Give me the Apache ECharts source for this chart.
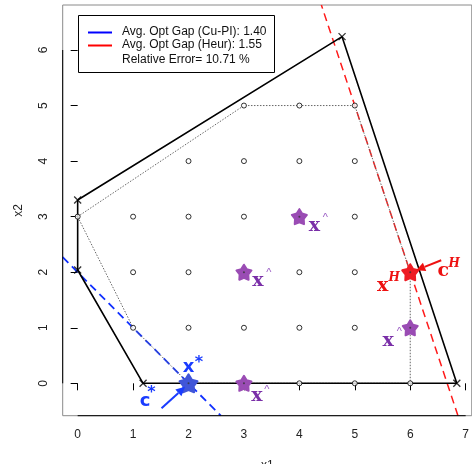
<!DOCTYPE html>
<html><head><meta charset="utf-8">
<script src="https://cdn.jsdelivr.net/npm/echarts@6/dist/echarts.min.js"></script>
<style>html,body{margin:0;padding:0;background:#fff}#c{width:472px;height:464px}</style>
</head><body><div id="c"></div><script>
// Feasible region (LP relaxation) vertices, closed polygon
const regionX = [0, 4.77, 6.84, 1.18, 0, 0];
const regionY = [3.30, 6.24, 0, 0, 2.04, 3.30];
// Convex hull of the integer feasible points
const hullX = [0, 3, 5, 6, 6, 2, 1, 0];
const hullY = [3, 5, 5, 2, 0, 0, 1, 3];
// Integer feasible points (those not marked by a star)
const latticeX = [3,4,5, 2,3,4,5, 0,1,2,3,5, 1,2,4,5, 1,2,3,4,5, 4,5,6];
const latticeY = [5,5,5, 4,4,4,4, 3,3,3,3,3, 2,2,2,2, 1,1,1,1,1, 0,0,0];
// Predicted solutions (x^)
const predX = [4, 3, 6, 3];
const predY = [3, 2, 1, 0];
// Heuristic solution x^H and optimal solution x*
const heurX = [6], heurY = [2];
const optX = [2], optY = [0];
// Objective level lines a*x1 + b*x2 = c
const optLine = [1, 1, 2];     // through x*
const heurLine = [3, 1, 20];   // through x^H
// Legend values
const gapCuPI = '1.40';
const gapHeur = '1.55';
const relErr = '10.71';
// Axis ranges and ticks
const xRange = [-0.27, 7.11];
const yRange = [-0.583, 6.81];
const xTicks = [0, 1, 2, 3, 4, 5, 6, 7];
const yTicks = [0, 1, 2, 3, 4, 5, 6];

const zip = (a, b) => a.map((v, i) => [v, b[i]]);

// segment of a line a*x + b*y = c inside the plotting window
function lineInWindow(l) {
  const [a, b, c] = l, pts = [];
  for (const x of xRange) { const y = (c - a * x) / b; if (y >= yRange[0] && y <= yRange[1]) pts.push([x, y]); }
  for (const y of yRange) { const x = (c - b * y) / a; if (x >= xRange[0] && x <= xRange[1]) pts.push([x, y]); }
  return pts.slice(0, 2);
}

function starPath() {
  let d = '';
  for (let i = 0; i < 10; i++) {
    const r = i % 2 === 0 ? 50 : 29;
    const a = -Math.PI / 2 + i * Math.PI / 5;
    d += (i === 0 ? 'M' : 'L') + (50 + r * Math.cos(a)).toFixed(2) + ' ' + (50 + r * Math.sin(a)).toFixed(2) + ' ';
  }
  return 'path://' + d + 'Z';
}
const STAR = starPath();
const CROSS = 'path://M0 0L10 10M10 0L0 10';
const SANS = 'Liberation Sans';
const MATH = 'DejaVu Serif';
const BSANS = 'DejaVu Sans';

const chart = echarts.init(document.getElementById('c'), null, { renderer: 'canvas' });

const starSeries = (data, color, size) => ({
  type: 'scatter', data, symbol: STAR, symbolSize: size, z: 5,
  itemStyle: { color, borderColor: color, borderWidth: 2, borderJoin: 'round', opacity: 1 }
});

chart.setOption({
  animation: false,
  grid: { left: 62.7, right: -1.5, top: 5, bottom: 48.3, show: true, borderColor: '#8a8a8a', borderWidth: 1 },
  xAxis: {
    type: 'value', min: xRange[0], max: xRange[1],
    splitLine: { show: false }, axisLine: { show: false },
    axisTick: { customValues: xTicks, length: 7, lineStyle: { color: '#000', width: 1 } },
    axisLabel: { customValues: xTicks, fontSize: 12, color: '#222', fontFamily: SANS, margin: 13 }
  },
  yAxis: {
    type: 'value', min: yRange[0], max: yRange[1],
    splitLine: { show: false }, axisLine: { show: false },
    axisTick: { customValues: yTicks, length: 7, lineStyle: { color: '#000', width: 1 } },
    axisLabel: { customValues: yTicks, fontSize: 12, color: '#222', fontFamily: SANS, margin: 13, rotate: 90 }
  },
  series: [
    { type: 'line', data: lineInWindow(heurLine), symbol: 'none', z: 2,
      lineStyle: { color: '#ff1a1a', width: 1.5, type: [8, 5] } },
    { type: 'line', data: lineInWindow(optLine), symbol: 'none', z: 2,
      lineStyle: { color: '#1030ff', width: 1.8, type: [8, 5] } },
    { type: 'line', data: zip(hullX, hullY), symbol: 'none', z: 2,
      lineStyle: { color: '#666', width: 1, type: [1.5, 1.5] } },
    { type: 'line', data: zip(regionX, regionY), symbol: 'none', z: 3,
      lineStyle: { color: '#000', width: 1.6 } },
    { type: 'scatter', data: zip(regionX, regionY).slice(0, 5), symbol: CROSS, symbolSize: 7, z: 4,
      itemStyle: { color: 'none', borderColor: '#000', borderWidth: 1.3 } },
    { type: 'scatter', data: zip(latticeX, latticeY), symbol: 'circle', symbolSize: 5, z: 4,
      itemStyle: { color: '#fff', borderColor: '#000', borderWidth: 1 } },
    starSeries(zip(predX, predY), '#9a4cb4', 15),
    starSeries(zip(heurX, heurY), '#ee1c24', 16),
    starSeries(zip(optX, optY), '#4156d8', 18),
    { type: 'scatter', data: zip(predX, predY).concat(zip(heurX, heurY), zip(optX, optY)), symbol: 'circle', symbolSize: 2, z: 6,
      itemStyle: { color: '#333' } }
  ]
});

const px = (x, y) => chart.convertToPixel({ gridIndex: 0 }, [x, y]);
const g = [];
function text(t, x, y, fill, size, family, weight, style, extra) {
  g.push(Object.assign({ type: 'text', z: 20,
    style: { text: t, x, y, fill, font: (style || 'normal') + ' ' + (weight || 'normal') + ' ' + size + 'px "' + family + '"',
      align: 'center', verticalAlign: 'middle' } }, extra || {}));
}
const seg = (p, q, stroke, w, z) => g.push({ type: 'line', z: z || 20, shape: { x1: p[0], y1: p[1], x2: q[0], y2: q[1] }, style: { stroke, lineWidth: w } });
function arrow(tail, tip, color) {
  const dx = tip[0] - tail[0], dy = tip[1] - tail[1], L = Math.hypot(dx, dy);
  const ux = dx / L, uy = dy / L, hl = 9, hw = 4.5;
  const bx = tip[0] - ux * hl, by = tip[1] - uy * hl;
  seg(tail, [bx, by], color, 2);
  g.push({ type: 'polygon', z: 20, shape: { points: [tip, [bx - uy * hw, by + ux * hw], [bx + uy * hw, by - ux * hw]] }, style: { fill: color } });
}

// axis lines spanning the tick range
seg(px(xTicks[0], yRange[0]), px(xTicks[xTicks.length - 1], yRange[0]), '#000', 1);
seg(px(xRange[0], yTicks[0]), px(xRange[0], yTicks[yTicks.length - 1]), '#000', 1);

// axis titles
text('x1', px((xRange[0] + xRange[1]) / 2, 0)[0], 466, '#222', 12, SANS);
const ty = px(0, (yRange[0] + yRange[1]) / 2)[1];
text('x2', 19, ty, '#222', 12, SANS, null, null, { rotation: Math.PI / 2, originX: 19, originY: ty });

// x^ annotations next to the predicted solutions
const hatOffsets = [[15, 9, 26, 1], [14, 9, 25, 1], [-22, 13, -11, 4], [13, 13, 23, 7]];
predX.forEach((x, i) => {
  const p = px(x, predY[i]), o = hatOffsets[i];
  text('x', p[0] + o[0], p[1] + o[1], '#7a2fa8', 19, MATH, 'bold');
  text('^', p[0] + o[2], p[1] + o[3], '#9a5cc4', 11, SANS);
});

// heuristic solution and its objective
const h = px(heurX[0], heurY[0]);
text('x', h[0] - 27.5, h[1] + 14, '#ee1111', 19, MATH, 'bold');
text('H', h[0] - 16, h[1] + 6, '#ee1111', 12, MATH, 'bold', 'italic');
text('c', h[0] + 33, h[1] - 1.5, '#ee1111', 19, MATH, 'bold');
text('H', h[0] + 44, h[1] - 8, '#ee1111', 12, MATH, 'bold', 'italic');
arrow([h[0] + 31, h[1] - 12], [h[0] + 6, h[1] - 2], '#ee1111');

// optimal solution and its objective
const s = px(optX[0], optY[0]);
text('x', s[0], s[1] - 15.5, '#1a3cff', 18, BSANS, 'bold');
text('*', s[0] + 10.5, s[1] - 20, '#1a3cff', 16, BSANS, 'bold');
text('c', s[0] - 43.5, s[1] + 18, '#1a3cff', 18, BSANS, 'bold');
text('*', s[0] - 37, s[1] + 10, '#1a3cff', 16, BSANS, 'bold');
arrow([s[0] - 27, s[1] + 25], [s[0] - 3.5, s[1] + 3.5], '#1a3cff');

// legend box
g.push({ type: 'rect', z: 30, shape: { x: 78.5, y: 15.5, width: 196, height: 57 }, style: { fill: '#fff', stroke: '#000', lineWidth: 1 } });
seg([88, 32.5], [112, 32.5], '#0000ff', 2, 31);
seg([88, 45.5], [112, 45.5], '#ff0000', 2, 31);
const legendTexts = ['Avg. Opt Gap (Cu-PI): ' + gapCuPI, 'Avg. Opt Gap (Heur): ' + gapHeur, 'Relative Error= ' + relErr + ' %'];
[31.5, 45, 59.5].forEach((y, i) => {
  g.push({ type: 'text', z: 31, style: { text: legendTexts[i], x: 122, y, fill: '#111', fontSize: 12, fontFamily: SANS, align: 'left', verticalAlign: 'middle' } });
});

chart.setOption({ graphic: g });
</script></body></html>
